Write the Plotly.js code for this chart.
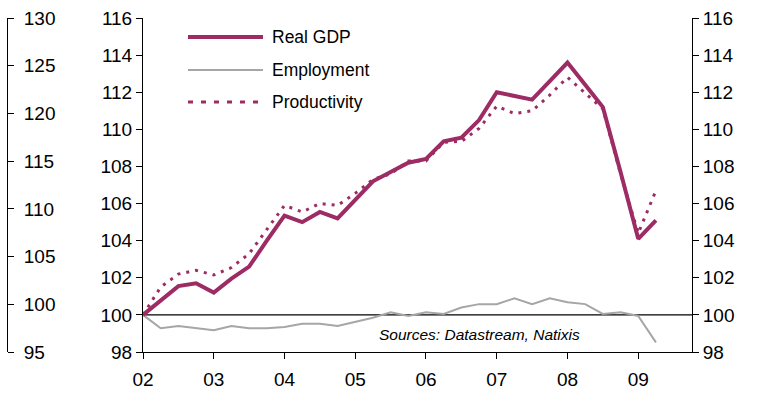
<!DOCTYPE html>
<html>
<head>
<meta charset="utf-8">
<script src="https://cdn.plot.ly/plotly-3.0.1.min.js"></script>
<style>html,body{margin:0;padding:0;background:#fff;}#chart{width:760px;height:394px;}</style>
</head>
<body>
<div id="chart"></div>
<script>
// Quarterly dates (2002Q1 .. 2009Q2)
const quarters = [2002,2002.25,2002.5,2002.75,2003,2003.25,2003.5,2003.75,2004,2004.25,2004.5,2004.75,
  2005,2005.25,2005.5,2005.75,2006,2006.25,2006.5,2006.75,2007,2007.25,2007.5,2007.75,
  2008,2008.25,2008.5,2008.75,2009,2009.25];
const realGDP = [100,100.8,101.55,101.7,101.2,101.95,102.6,104.0,105.35,105.0,105.55,105.2,
  106.2,107.2,107.7,108.2,108.4,109.35,109.55,110.5,112.0,111.8,111.6,112.6,
  113.6,112.4,111.2,107.7,104.1,105.1];
const employment = [100,99.28,99.4,99.3,99.17,99.4,99.28,99.28,99.35,99.52,99.52,99.4,
  99.63,99.85,100.14,99.94,100.14,100.05,100.4,100.58,100.58,100.89,100.58,100.89,
  100.68,100.58,100.05,100.14,99.94,98.52];
const productivity = [100,101.5,102.2,102.4,102.15,102.55,103.3,104.6,105.9,105.55,106.0,105.9,
  106.55,107.3,107.6,108.3,108.3,109.3,109.35,110.05,111.25,110.85,111.0,111.85,
  112.8,111.95,111.1,107.6,104.4,106.7];
const yearTicks = [2002,2003,2004,2005,2006,2007,2008,2009];
const yearLabels = ['02','03','04','05','06','07','08','09'];
const seriesNames = ['Real GDP','Employment','Productivity'];
const sourceText = 'Sources: Datastream, Natixis';

const wine = '#9C2C63';
const grey = '#A6A6A6';
const font = 'Liberation Sans, Arial, sans-serif';

const W = 760, H = 394, ML = 7, MR = 68, MT = 18, MB = 42;
const PW = W - ML - MR, PH = H - MT - MB;
const px = x => (x - ML) / PW;
const py = y => (H - MB - y) / PH;

const traces = [
  {x: quarters, y: employment, type: 'scatter', mode: 'lines', name: seriesNames[1],
   line: {color: grey, width: 2}, showlegend: false, hoverinfo: 'skip'},
  {x: quarters, y: productivity, type: 'scatter', mode: 'lines', name: seriesNames[2],
   line: {color: wine, width: 3, dash: '3px,6px'}, showlegend: false, hoverinfo: 'skip'},
  {x: quarters, y: realGDP, type: 'scatter', mode: 'lines', name: seriesNames[0],
   line: {color: wine, width: 4}, showlegend: false, hoverinfo: 'skip'},
  {x: [quarters[0]], y: [null], yaxis: 'y2', type: 'scatter', mode: 'lines', showlegend: false, hoverinfo: 'skip'},
  {x: [quarters[0]], y: [null], yaxis: 'y3', type: 'scatter', mode: 'lines', showlegend: false, hoverinfo: 'skip'}
];

const axisCommon = {
  showgrid: false, zeroline: false, showline: true, linecolor: '#000', linewidth: 1,
  ticks: 'outside', ticklen: 6, tickcolor: '#000', tickwidth: 1,
  tickfont: {family: font, size: 19, color: '#000'}
};

// legend drawn as shapes + annotations
const legendRows = [
  {y: 37, dash: 'solid', width: 4, color: wine},
  {y: 70, dash: 'solid', width: 2, color: grey},
  {y: 102, dash: '5px,8px', width: 3, color: wine}
];
const shapes = [
  {type: 'line', xref: 'x domain', yref: 'y', x0: 0, x1: 1, y0: 100, y1: 100,
   line: {color: '#000', width: 1.3}, layer: 'below'}
];
const annotations = [];
legendRows.forEach((r, i) => {
  shapes.push({type: 'line', xref: 'paper', yref: 'paper', x0: px(188), x1: px(263), y0: py(r.y), y1: py(r.y),
    line: {color: r.color, width: r.width, dash: r.dash}});
  annotations.push({xref: 'paper', yref: 'paper', x: px(270), y: py(r.y), xanchor: 'left', yanchor: 'middle',
    text: seriesNames[i], showarrow: false, font: {family: font, size: 17.5, color: '#000'}});
});
annotations.push({xref: 'paper', yref: 'paper', x: px(479), y: py(334), xanchor: 'center', yanchor: 'middle',
  text: '<i>' + sourceText + '</i>', showarrow: false, font: {family: font, size: 15.5, color: '#000'}});

const layout = {
  width: W, height: H,
  margin: {l: ML, r: MR, t: MT, b: MB, pad: 0},
  paper_bgcolor: '#fff', plot_bgcolor: '#fff',
  showlegend: false,
  xaxis: Object.assign({}, axisCommon, {
    domain: [px(143), 1], range: [2002, 2009.76],
    tickmode: 'array', tickvals: yearTicks, ticktext: yearLabels, ticklabelstandoff: 4
  }),
  yaxis: Object.assign({}, axisCommon, {range: [98, 116], dtick: 2, tick0: 98, side: 'left', anchor: 'x'}),
  yaxis2: Object.assign({}, axisCommon, {range: [98, 116], dtick: 2, tick0: 98, side: 'right',
    overlaying: 'y', anchor: 'x'}),
  yaxis3: Object.assign({}, axisCommon, {range: [95, 130], dtick: 5, tick0: 95, side: 'right',
    overlaying: 'y', anchor: 'free', position: 0, ticklabelstandoff: 6}),
  shapes: shapes,
  annotations: annotations
};

Plotly.newPlot('chart', traces, layout, {staticPlot: true, displayModeBar: false});
</script>
</body>
</html>
